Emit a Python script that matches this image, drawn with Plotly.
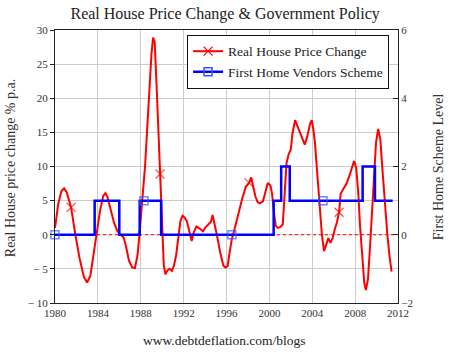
import plotly.graph_objects as go

# ---- data ----
price_years = [1980.0, 1980.3, 1980.6, 1980.85, 1981.1, 1981.5, 1981.9, 1982.3, 1982.7, 1983.0,
               1983.3, 1983.6, 1983.9, 1984.2, 1984.5, 1984.7, 1984.9, 1985.2, 1985.5, 1985.8,
               1986.0, 1986.4, 1986.6, 1986.9, 1987.2, 1987.45, 1987.7, 1987.85, 1988.0, 1988.2,
               1988.4, 1988.6, 1988.8, 1989.0, 1989.15, 1989.3, 1989.5, 1989.7, 1989.8, 1989.95,
               1990.0, 1990.15, 1990.3, 1990.5, 1990.7, 1990.9, 1991.1, 1991.3, 1991.5, 1991.7,
               1991.9, 1992.1, 1992.3, 1992.55, 1992.75, 1992.95, 1993.2, 1993.5, 1993.8, 1994.0,
               1994.3, 1994.55, 1994.7, 1994.9, 1995.1, 1995.4, 1995.7, 1995.9, 1996.1, 1996.3,
               1996.5, 1996.7, 1996.9, 1997.2, 1997.5, 1997.8, 1998.1, 1998.3, 1998.5, 1998.7,
               1998.9, 1999.1, 1999.4, 1999.6, 1999.85, 2000.1, 2000.25, 2000.45, 2000.6, 2000.8,
               2001.0, 2001.25, 2001.4, 2001.6, 2001.8, 2002.0, 2002.15, 2002.4, 2002.6, 2002.85,
               2003.1, 2003.3, 2003.55, 2003.8, 2003.95, 2004.1, 2004.25, 2004.45, 2004.7, 2004.9,
               2005.1, 2005.3, 2005.5, 2005.7, 2005.9, 2006.1, 2006.3, 2006.5, 2006.65, 2006.9,
               2007.2, 2007.5, 2007.75, 2007.9, 2008.1, 2008.3, 2008.45, 2008.65, 2008.85, 2009.0,
               2009.2, 2009.4, 2009.6, 2009.8, 2009.95, 2010.15, 2010.35, 2010.55, 2010.75, 2011.0,
               2011.2, 2011.4]
price_change = [1.0, 4.5, 6.4, 6.8, 6.2, 4.0, 0.0, -3.5, -6.2, -7.0,
                -6.0, -3.0, 0.0, 3.5, 5.7, 6.1, 5.5, 3.5, 1.8, 0.6,
                0.2, -0.4, -1.5, -3.8, -4.8, -4.9, -3.0, -0.5, 2.2, 5.5,
                10.0, 15.5, 21.5, 26.5, 28.9, 28.3, 21.0, 13.0, 8.9, 2.0,
                -1.0, -4.5, -5.8, -5.2, -5.0, -5.3, -4.5, -3.0, -0.5, 2.0,
                2.8, 2.5, 2.0, 0.3, -0.9, 0.4, 1.2, 0.9, 0.5, 1.0,
                1.5, 1.9, 2.9, 1.6, 0.0, -2.5, -4.5, -4.8, -4.6, -2.5,
                -0.6, 0.5, 1.8, 3.5, 5.5, 7.0, 7.6, 8.4, 7.0, 5.6,
                4.8, 4.6, 4.9, 6.2, 7.6, 7.2, 6.0, 3.0, 1.3, 1.0,
                1.1, 1.5, 5.0, 10.5, 11.8, 12.5, 14.8, 16.8, 16.0, 15.0,
                14.0, 13.2, 14.5, 16.3, 16.8, 15.5, 13.5, 9.0, 4.0, 0.0,
                -2.4, -1.5, -0.5, -1.2, -0.5, 0.8, 1.8, 3.3, 6.0, 6.7,
                7.5, 8.8, 10.0, 10.8, 9.8, 6.0, 1.5, -3.0, -7.0, -8.1,
                -6.5, -1.5, 4.0, 9.5, 13.5, 15.5, 14.0, 9.5, 5.0, 0.2,
                -3.0, -5.4]
price_marker_years = [1981.5, 1989.8, 1998.1, 2006.5]

scheme_years = [1980.0, 1983.7, 1986.0, 1987.9, 1988.3, 1989.9, 1996.5, 2000.4, 2001.1,
                2001.9, 2005.0, 2008.7, 2009.85, 2011.5]
scheme_level = [0, 1, 0, 1, 1, 0, 0, 1, 2, 1, 1, 2, 1, 1]
scheme_marker_years = [1980.0, 1988.3, 1996.5, 2005.0]

x_ticks = [1980, 1984, 1988, 1992, 1996, 2000, 2004, 2008, 2012]
y_ticks = [30, 25, 20, 15, 10, 5, 0, -5, -10]
y_ticktext = ["30", "25", "20", "15", "10", "5", "0", "\u2212 5", "\u2212 10"]
y2_ticks = [6, 4, 2, 0, -2]
y2_ticktext = ["6", "4", "2", "0", "\u22122"]
zero_ref_years = [x_ticks[0], x_ticks[-1]]
zero_ref_values = [0, 0]

FONT = "Liberation Serif, Times New Roman, serif"
RED = "#ff0000"
BLUE = "#0000ff"
MBLUE = "#3355ff"

price_sizes = [9 if y in price_marker_years else 0 for y in price_years]
scheme_sizes = [8 if y in scheme_marker_years else 0 for y in scheme_years]

fig = go.Figure()

# dotted zero reference line (drawn first so it sits beneath the series)
fig.add_trace(go.Scatter(
    x=zero_ref_years, y=zero_ref_values, mode="lines", hoverinfo="skip",
    line=dict(color=RED, width=1, dash="dot"), showlegend=False))

fig.add_trace(go.Scatter(
    x=scheme_years, y=scheme_level, yaxis="y2", mode="lines+markers",
    line=dict(color=BLUE, width=2.5, shape="hv"),
    marker=dict(symbol="square-open", size=scheme_sizes, color=MBLUE, line=dict(width=1.5, color=MBLUE)),
    showlegend=False, cliponaxis=False, name="First Home Vendors Scheme"))

fig.add_trace(go.Scatter(
    x=price_years, y=price_change, mode="lines+markers",
    line=dict(color=RED, width=2),
    marker=dict(symbol="x-thin-open", size=price_sizes, color=RED, line=dict(width=1.2, color=RED)),
    showlegend=False, cliponaxis=False, name="Real House Price Change"))

# legend entries
fig.add_trace(go.Scatter(
    x=[None], y=[None], mode="lines+markers", name="Real House Price Change",
    line=dict(color=RED, width=2),
    marker=dict(symbol="x-thin-open", size=9, color=RED, line=dict(width=1.2, color=RED))))
fig.add_trace(go.Scatter(
    x=[None], y=[None], mode="lines+markers", name="First Home Vendors Scheme",
    line=dict(color=BLUE, width=2.5),
    marker=dict(symbol="square-open", size=8, color=MBLUE, line=dict(width=1.5, color=MBLUE))))

fig.update_layout(
    template="none",
    width=470, height=361,
    margin=dict(l=55, r=72, t=30, b=58),
    paper_bgcolor="white", plot_bgcolor="white",
    font=dict(family=FONT, size=11, color="#333"),
    title=dict(text="Real House Price Change & Government Policy",
               x=0.479, xanchor="center", y=0.964, yanchor="middle",
               font=dict(family=FONT, size=16, color="#222")),
    xaxis=dict(range=[1980, 2012], tickvals=x_ticks, showgrid=True, gridcolor="#cccccc",
               gridwidth=1, showline=True, linecolor="#222", linewidth=1, mirror=True,
               ticks="", zeroline=False, tickfont=dict(family=FONT, size=11, color="#333")),
    yaxis=dict(range=[-10, 30], tickvals=y_ticks, ticktext=y_ticktext, showgrid=True,
               gridcolor="#cccccc", gridwidth=1, showline=True, linecolor="#222", linewidth=1,
               mirror=True, ticks="outside", ticklen=4, tickcolor="#222", zeroline=False,
               tickfont=dict(family=FONT, size=11, color="#333")),
    yaxis2=dict(range=[-2, 6], tickvals=y2_ticks, ticktext=y2_ticktext, overlaying="y",
                side="right", showgrid=False, zeroline=False, showline=True, linecolor="#222",
                ticks="inside", ticklen=5, tickcolor="#222",
                tickfont=dict(family=FONT, size=11, color="#333")),
    legend=dict(x=0.974, y=0.982, xanchor="right", yanchor="top", bgcolor="white",
                bordercolor="#111", borderwidth=1, font=dict(family=FONT, size=13.5, color="#222"),
                itemwidth=30, tracegroupgap=0),
    annotations=[
        dict(text="Real House price change % p.a.", xref="paper", yref="paper",
             x=-0.131, y=0.494, textangle=-90, showarrow=False,
             xanchor="center", yanchor="middle", font=dict(family=FONT, size=14, color="#333")),
        dict(text="First Home Scheme Level", xref="paper", yref="paper",
             x=1.117, y=0.498, textangle=-90, showarrow=False,
             xanchor="center", yanchor="middle", font=dict(family=FONT, size=14, color="#333")),
        dict(text="www.debtdeflation.com/blogs", xref="paper", yref="paper",
             x=0.494, y=-0.139, showarrow=False, xanchor="center", yanchor="middle",
             font=dict(family=FONT, size=13.5, color="#222")),
    ],
)

fig.write_html("out.html", config={"displayModeBar": False},
               post_script="document.body.style.margin='0';")
